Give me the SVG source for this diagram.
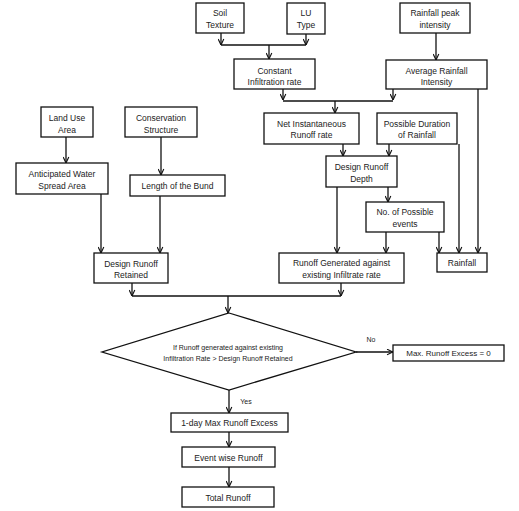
<svg xmlns="http://www.w3.org/2000/svg" width="519" height="511" viewBox="0 0 519 511">
<defs>
<style>
.b{fill:#fff;stroke:#111;stroke-width:1.3}
.t{font-family:"Liberation Sans",Arial,sans-serif;font-size:8.5px;fill:#222;text-anchor:middle}
.m{font-size:8px}
.s{font-family:"Liberation Sans",Arial,sans-serif;font-size:7px;fill:#222;text-anchor:middle}
.c path{fill:none;stroke:#111;stroke-width:1.3}
.a{marker-end:url(#ah)}
</style>
<marker id="ah" viewBox="0 0 10 10" refX="9.5" refY="5" markerWidth="7" markerHeight="7" orient="auto" markerUnits="userSpaceOnUse">
<path d="M1,1 L9.5,5 L1,9" fill="none" stroke="#111" stroke-width="1.6"/>
</marker>
</defs>
<rect width="519" height="511" fill="#fff"/>
<g class="c" id="connectors">
<path class="a" d="M221,33 V45"/>
<path class="a" d="M306,34 V45"/>
<path d="M221,45 H306"/>
<path class="a" d="M269,45 V59"/>
<path class="a" d="M436,33 V60"/>
<path class="a" d="M283,89 V100"/>
<path class="a" d="M393,89 V100"/>
<path d="M283,101 H393"/>
<path class="a" d="M335,101 V113"/>
<path class="a" d="M478,89 V253"/>
<path class="a" d="M343,144 V156"/>
<path class="a" d="M389,144 V156"/>
<path class="a" d="M459,144 V253"/>
<path class="a" d="M337,187 V253"/>
<path class="a" d="M388,187 V202"/>
<path class="a" d="M386,232 V253"/>
<path class="a" d="M439,232 V253"/>
<path class="a" d="M66,137 V163"/>
<path class="a" d="M161,137 V175"/>
<path class="a" d="M101,194 V253"/>
<path class="a" d="M160,196 V253"/>
<path class="a" d="M132,283 V296"/>
<path class="a" d="M341,283 V296"/>
<path d="M132,296 H341"/>
<path class="a" d="M228,296 V313"/>
<path class="a" d="M356,352 H393"/>
<path class="a" d="M229,390 V413"/>
<path class="a" d="M229,432 V447"/>
<path class="a" d="M229,467 V487"/>
<text class="s" x="371" y="342">No</text>
<text class="s" x="246" y="404">Yes</text>
</g>
<g id="soil"><rect class="b" x="196" y="3" width="48" height="30"/><text class="t" x="220" y="16">Soil</text><text class="t" x="220" y="28">Texture</text></g>
<g id="lu"><rect class="b" x="287" y="3" width="38" height="31"/><text class="t" x="306" y="16">LU</text><text class="t" x="306" y="28">Type</text></g>
<g id="peak"><rect class="b" x="400" y="3" width="70" height="30"/><text class="t" x="435" y="16">Rainfall peak</text><text class="t" x="435" y="28">intensity</text></g>
<g id="constant"><rect class="b" x="234" y="59" width="81" height="30"/><text class="t" x="274.5" y="74">Constant</text><text class="t" x="274.5" y="85">Infiltration rate</text></g>
<g id="average"><rect class="b" x="386" y="60" width="101" height="29"/><text class="t" x="436.5" y="74">Average Rainfall</text><text class="t" x="436.5" y="85">Intensity</text></g>
<g id="landuse"><rect class="b" x="41" y="107" width="52" height="30"/><text class="t" x="67" y="121">Land Use</text><text class="t" x="67" y="133">Area</text></g>
<g id="conservation"><rect class="b" x="125" y="107" width="72" height="30"/><text class="t" x="161" y="121">Conservation</text><text class="t" x="161" y="133">Structure</text></g>
<g id="anticipated"><rect class="b" x="16" y="163" width="92" height="31"/><text class="t" x="62" y="177">Anticipated Water</text><text class="t" x="62" y="189">Spread Area</text></g>
<g id="bund"><rect class="b" x="130" y="175" width="95" height="21"/><text class="t" x="177.5" y="189">Length of the Bund</text></g>
<g id="net"><rect class="b" x="264" y="113" width="95" height="31"/><text class="t" x="311.5" y="127">Net Instantaneous</text><text class="t" x="311.5" y="138">Runoff rate</text></g>
<g id="duration"><rect class="b" x="377" y="113" width="80" height="31"/><text class="t" x="417" y="127">Possible Duration</text><text class="t" x="417" y="138">of Rainfall</text></g>
<g id="depth"><rect class="b" x="326" y="156" width="71" height="31"/><text class="t" x="361.5" y="170">Design Runoff</text><text class="t" x="361.5" y="182">Depth</text></g>
<g id="events"><rect class="b" x="366" y="202" width="78" height="30"/><text class="t" x="405" y="215">No. of Possible</text><text class="t" x="405" y="227">events</text></g>
<g id="retained"><rect class="b" x="94" y="253" width="74" height="30"/><text class="t" x="131" y="267">Design Runoff</text><text class="t" x="131" y="278">Retained</text></g>
<g id="generated"><rect class="b" x="279" y="253" width="125" height="30"/><text class="t" x="341.5" y="266">Runoff Generated against</text><text class="t" x="341.5" y="278">existing Infiltrate rate</text></g>
<g id="rainfall"><rect class="b" x="437" y="253" width="50" height="19"/><text class="t" x="462" y="266">Rainfall</text></g>
<g id="decision"><polygon class="b" points="229,313 356,352 229,390 102,352"/><text class="s" x="228" y="350">If Runoff generated against existing</text><text class="s" x="228" y="361">Infiltration Rate &gt; Design Runoff Retained</text></g>
<g id="maxzero"><rect class="b" x="393" y="345" width="111" height="16"/><text class="t m" x="448.5" y="356">Max. Runoff Excess = 0</text></g>
<g id="oneday"><rect class="b" x="171" y="413" width="117" height="19"/><text class="t" x="229.5" y="426">1-day Max Runoff Excess</text></g>
<g id="eventwise"><rect class="b" x="182" y="447" width="93" height="20"/><text class="t" x="228.5" y="460.5">Event wise Runoff</text></g>
<g id="total"><rect class="b" x="182" y="487" width="92" height="20"/><text class="t" x="228" y="500.5">Total Runoff</text></g>
</svg>
